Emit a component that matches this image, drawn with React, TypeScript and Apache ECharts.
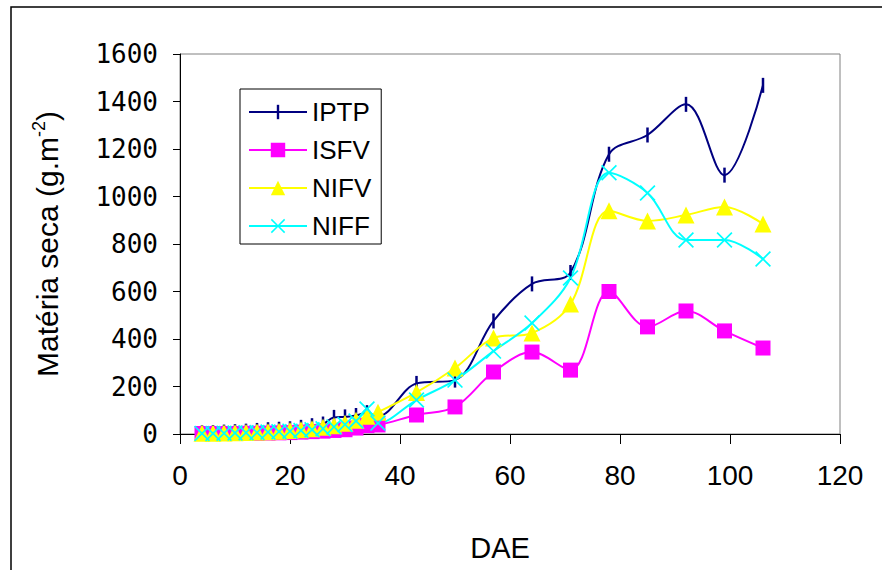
import React, { useEffect, useRef } from "react";
import * as echarts from "echarts";

const days = [4, 6, 8, 10, 12, 14, 16, 18, 20, 22, 24, 26, 28, 30, 32, 34, 36, 43, 50, 57, 64, 71, 78, 85, 92, 99, 106];
const iptp = [5, 6, 8, 10, 12, 15, 18, 20, 22, 28, 35, 42, 70, 72, 78, 90, 75, 213, 227, 476, 632, 680, 1178, 1259, 1388, 1090, 1468];
const isfv = [2, 2, 2, 2, 3, 3, 4, 5, 6, 8, 10, 12, 15, 18, 25, 35, 38, 80, 114, 261, 345, 269, 600, 451, 518, 434, 362];
const nifv = [3, 3, 4, 5, 6, 8, 10, 12, 15, 18, 22, 28, 35, 45, 58, 75, 92, 175, 278, 404, 425, 547, 940, 897, 922, 956, 884];
const niff = [2, 2, 3, 4, 5, 6, 8, 10, 12, 15, 18, 22, 30, 40, 55, 105, 46, 143, 227, 349, 467, 657, 1100, 1015, 817, 817, 737];
const seriesNames = ["IPTP", "ISFV", "NIFV", "NIFF"];
const yTicks = { min: 0, max: 1600, interval: 200 };
const xTicks = { min: 0, max: 120, interval: 20 };

const X_PATH = "path://M0,1.5L1.5,0L10,8.5L18.5,0L20,1.5L11.5,10L20,18.5L18.5,20L10,11.5L1.5,20L0,18.5L8.5,10Z";
const BAR_PATH = "path://M0,0L0,0M15,15L15,15M6.25,0L8.75,0L8.75,15L6.25,15Z";

export default function App() {
  const ref = useRef<HTMLDivElement>(null);
  useEffect(() => {
    if (!ref.current) return;
    const chart = echarts.init(ref.current, null, { renderer: "svg" });
    const toData = (vals: number[]) => days.map((d, i) => [d, vals[i]]);
    const font = "Liberation Sans, Arial, sans-serif";
    const mk = (name: string, vals: number[], color: string, symbol: string, size: any) => ({
      name,
      type: "line",
      data: toData(vals),
      smooth: 0.35,
      symbol,
      symbolSize: size,
      showAllSymbol: true,
      lineStyle: { color, width: 2 },
      itemStyle: { color, borderWidth: 0 },
      emphasis: { disabled: true },
    });
    chart.setOption({
      animation: false,
      backgroundColor: "#fff",
      grid: { left: 180, top: 54, right: 42, bottom: 136, show: true, borderColor: "#808080", borderWidth: 1 },
      xAxis: {
        type: "value",
        min: xTicks.min,
        max: xTicks.max,
        interval: xTicks.interval,
        splitLine: { show: false },
        axisLine: { lineStyle: { color: "#000", width: 1 } },
        axisTick: { inside: false, length: 10, lineStyle: { color: "#000" } },
        axisLabel: { color: "#000", fontSize: 28, fontFamily: font, margin: 27 },
      },
      yAxis: {
        type: "value",
        min: yTicks.min,
        max: yTicks.max,
        interval: yTicks.interval,
        splitLine: { show: false },
        axisLine: { show: true, lineStyle: { color: "#000", width: 1 } },
        axisTick: { show: true, inside: false, length: 7, lineStyle: { color: "#000" } },
        axisLabel: {
          color: "#000",
          fontSize: 26,
          fontFamily: "DejaVu Sans Mono, monospace",
          margin: 22,
          formatter: (v: number) => String(v),
        },
      },
      legend: {
        orient: "vertical",
        left: 240,
        top: 89,
        data: seriesNames,
        itemWidth: 58,
        itemHeight: 18,
        itemGap: 12,
        padding: [10, 10, 5, 8],
        borderColor: "#000",
        borderWidth: 1,
        backgroundColor: "#fff",
        textStyle: { color: "#000", fontSize: 26, fontFamily: font, lineHeight: 26 },
      },
      graphic: [
        {
          type: "rect",
          silent: true,
          shape: { x: 11, y: 7, width: 920, height: 620 },
          style: { fill: "none", stroke: "#000", lineWidth: 1.5 },
          z: 100,
        },
        {
          type: "text",
          x: 500,
          y: 548,
          style: { text: "DAE", font: `29px ${font}`, fill: "#000", align: "center", verticalAlign: "middle" },
        },
        {
          type: "text",
          x: 47,
          y: 244,
          rotation: Math.PI / 2,
          style: {
            text: "Matéria seca (g.m{sup|-2}{n|)}",
            fontSize: 30,
            fontFamily: font,
            fill: "#000",
            align: "center",
            verticalAlign: "middle",
            rich: {
              sup: { fontSize: 18, fontFamily: font, fill: "#000", verticalAlign: "top", lineHeight: 34 },
              n: { fontSize: 30, fontFamily: font, fill: "#000", lineHeight: 34 },
            },
          },
        },
      ],
      series: [
        mk("IPTP", iptp, "#000080", BAR_PATH, 15),
        mk("ISFV", isfv, "#FF00FF", "rect", 15),
        mk("NIFV", nifv, "#FFFF00", "triangle", 17),
        mk("NIFF", niff, "#00FFFF", X_PATH, 16),
      ],
    });
    return () => chart.dispose();
  }, []);
  return <div ref={ref} style={{ position: "fixed", left: 0, top: 0, width: 882, height: 570 }} />;
}
